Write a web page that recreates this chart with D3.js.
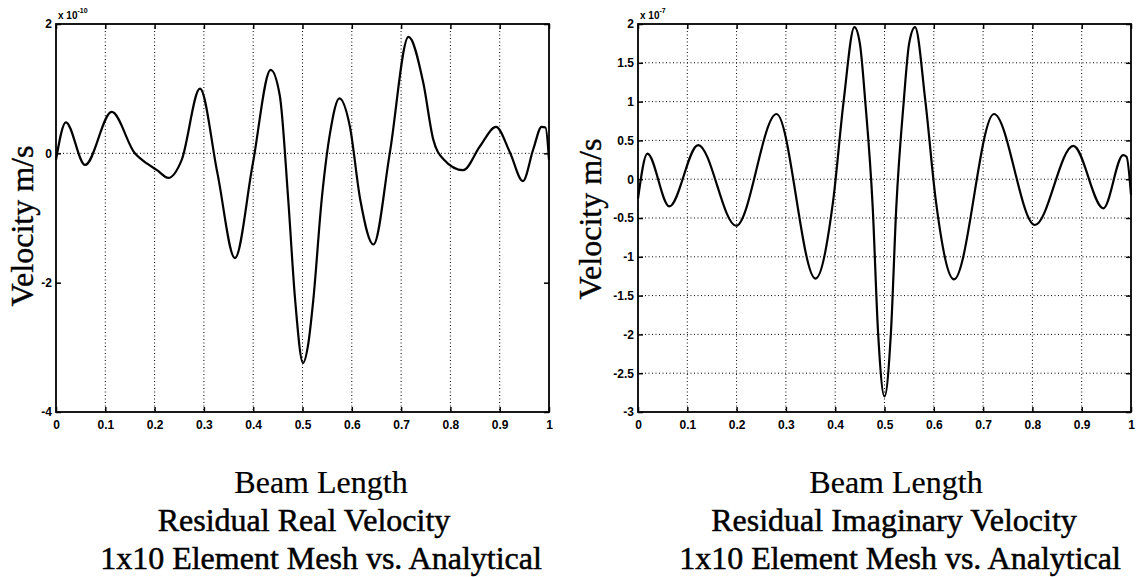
<!DOCTYPE html>
<html>
<head>
<meta charset="utf-8">
<script src="https://cdn.jsdelivr.net/npm/d3@7"></script>
<style>
  body { margin: 0; background: #fff; }
</style>
</head>
<body>
<div id="chart"></div>
<script>
// Residual real velocity, units of 1e-10 m/s
const realX = [0, 0.02, 0.059, 0.113, 0.16, 0.185, 0.205, 0.228, 0.255, 0.292, 0.3275, 0.363,
  0.399, 0.4355, 0.454, 0.471, 0.485, 0.501, 0.512, 0.522, 0.539, 0.556, 0.575, 0.596, 0.617,
  0.644, 0.677, 0.715, 0.745, 0.765, 0.786, 0.826, 0.86, 0.8925, 0.921, 0.947, 0.968,
  0.985, 0.993, 1.0];
const realY = [-0.1, 0.48, -0.18, 0.64, 0.0, -0.16, -0.26, -0.38, -0.1, 1.0, -0.31, -1.62,
  -0.17, 1.29, 0.89, -0.71, -2.26, -3.24, -2.93, -2.26, -0.71, 0.32, 0.85, 0.42, -0.71,
  -1.41, 0.0, 1.8, 1.09, 0.22, -0.09, -0.26, 0.11, 0.41, 0.01, -0.43, 0.06,
  0.41, 0.4, -0.1];

// Residual imaginary velocity, units of 1e-7 m/s
const imagX = [0, 0.019, 0.0635, 0.122, 0.199, 0.281, 0.36, 0.396, 0.417, 0.439, 0.45, 0.461,
  0.476, 0.487, 0.5, 0.513, 0.524, 0.539, 0.55, 0.562, 0.583, 0.604, 0.641, 0.722, 0.805,
  0.883, 0.944, 0.984, 0.991, 1.0];
const imagY = [-0.25, 0.33, -0.35, 0.44, -0.6, 0.84, -1.28, -0.27, 1.0, 1.96, 1.75, 1.0,
  -0.35, -1.98, -2.8, -1.98, -0.35, 1.0, 1.75, 1.96, 1.0, -0.27, -1.29, 0.84, -0.59,
  0.43, -0.375, 0.31, 0.29, -0.2];

const xTicks = [0, 0.1, 0.2, 0.3, 0.4, 0.5, 0.6, 0.7, 0.8, 0.9, 1];
const realYTicks = [-4, -2, 0, 2];
const realGridY = [0];
const imagYTicks = [-3, -2.5, -2, -1.5, -1, -0.5, 0, 0.5, 1, 1.5, 2];
const imagGridY = [-2.5, -2, -1.5, -1, -0.5, 0, 0.5, 1, 1.5];

const W = 1139, H = 577;
const serif = "'Liberation Serif', 'Times New Roman', serif";
const sans = "'Liberation Sans', Arial, sans-serif";

const svg = d3.select("#chart")
    .append("svg")
    .attr("width", W)
    .attr("height", H)
    .style("background-color", "#fff");

function drawPanel(cfg) {
    const x = d3.scaleLinear().domain([0, 1]).range([cfg.left, cfg.right]);
    const y = d3.scaleLinear().domain(cfg.yDomain).range([cfg.bottom, cfg.top]);
    const g = svg.append("g");

    // dotted grid
    g.append("g")
        .selectAll("line")
        .data(xTicks.slice(1, -1))
        .join("line")
        .attr("x1", d => x(d)).attr("x2", d => x(d))
        .attr("y1", cfg.top).attr("y2", cfg.bottom)
        .attr("stroke", "#000")
        .attr("stroke-width", 1)
        .attr("stroke-dasharray", "1,2.5");
    g.append("g")
        .selectAll("line")
        .data(cfg.gridY)
        .join("line")
        .attr("x1", cfg.left).attr("x2", cfg.right)
        .attr("y1", d => y(d)).attr("y2", d => y(d))
        .attr("stroke", "#000")
        .attr("stroke-width", 1)
        .attr("stroke-dasharray", "1,2.5");

    const styleAxis = s => {
        s.select(".domain").remove();
        s.selectAll(".tick line").attr("stroke-width", 1.5);
        s.selectAll("text")
            .attr("font-family", sans)
            .attr("font-weight", "bold")
            .attr("font-size", 12)
            .attr("fill", "#000");
    };

    // bottom / top ticks
    g.append("g")
        .attr("transform", `translate(0, ${cfg.bottom})`)
        .call(d3.axisBottom(x).tickValues(xTicks).tickSize(-5).tickPadding(8).tickFormat(d => String(d)))
        .call(styleAxis);
    g.append("g")
        .attr("transform", `translate(0, ${cfg.top})`)
        .call(d3.axisTop(x).tickValues(xTicks).tickSize(-5).tickFormat(""))
        .call(styleAxis);

    // left / right ticks
    g.append("g")
        .attr("transform", `translate(${cfg.left}, 0)`)
        .call(d3.axisLeft(y).tickValues(cfg.yTicks).tickSize(-5).tickPadding(4).tickFormat(d => String(d)))
        .call(styleAxis);
    g.append("g")
        .attr("transform", `translate(${cfg.right}, 0)`)
        .call(d3.axisRight(y).tickValues(cfg.yTicks).tickSize(-5).tickFormat(""))
        .call(styleAxis);

    // box
    g.append("rect")
        .attr("x", cfg.left)
        .attr("y", cfg.top)
        .attr("width", cfg.right - cfg.left)
        .attr("height", cfg.bottom - cfg.top)
        .attr("fill", "none")
        .attr("stroke", "#000")
        .attr("stroke-width", 1.8);

    // curve
    const line = d3.line()
        .x(d => x(d[0]))
        .y(d => y(d[1]))
        .curve(d3.curveMonotoneX);
    g.append("path")
        .datum(d3.zip(cfg.xs, cfg.ys))
        .attr("d", line)
        .attr("fill", "none")
        .attr("stroke", "#000")
        .attr("stroke-width", 2.2)
        .attr("stroke-linejoin", "round");

    // exponent label
    const ex = g.append("text")
        .attr("x", cfg.left + 2)
        .attr("y", 19)
        .attr("font-family", sans)
        .attr("font-weight", "bold")
        .attr("font-size", 10)
        .text("x 10");
    ex.append("tspan")
        .attr("dy", -6)
        .attr("font-size", 7)
        .text(cfg.exponent);

    // y label
    g.append("text")
        .attr("transform", `translate(${cfg.yLabelX}, ${cfg.yLabelY}) rotate(-90)`)
        .attr("text-anchor", "middle")
        .attr("font-family", serif)
        .attr("font-size", 32)
        .attr("stroke", "#000")
        .attr("stroke-width", 0.4)
        .text("Velocity m/s");

    // captions under the plot
    const captions = ["Beam Length", cfg.title, "1x10 Element Mesh vs. Analytical"];
    g.append("g")
        .selectAll("text")
        .data(captions)
        .join("text")
        .attr("x", (d, i) => cfg.captionX[i])
        .attr("y", (d, i) => [493, 531, 569][i])
        .attr("text-anchor", "middle")
        .attr("font-family", serif)
        .attr("font-size", 32)
        .attr("stroke", "#000")
        .attr("stroke-width", (d, i) => i === 0 ? 0.2 : 0.5)
        .text(d => d);
}

drawPanel({
    left: 56, right: 549, top: 24, bottom: 412,
    yDomain: [-4, 2], yTicks: realYTicks, gridY: realGridY,
    xs: realX, ys: realY, exponent: "-10",
    yLabelX: 33, yLabelY: 226,
    title: "Residual Real Velocity",
    captionX: [321, 304, 321]
});

drawPanel({
    left: 638, right: 1131, top: 24, bottom: 412,
    yDomain: [-3, 2], yTicks: imagYTicks, gridY: imagGridY,
    xs: imagX, ys: imagY, exponent: "-7",
    yLabelX: 601, yLabelY: 219,
    title: "Residual Imaginary Velocity",
    captionX: [896, 894, 900]
});
</script>
</body>
</html>
